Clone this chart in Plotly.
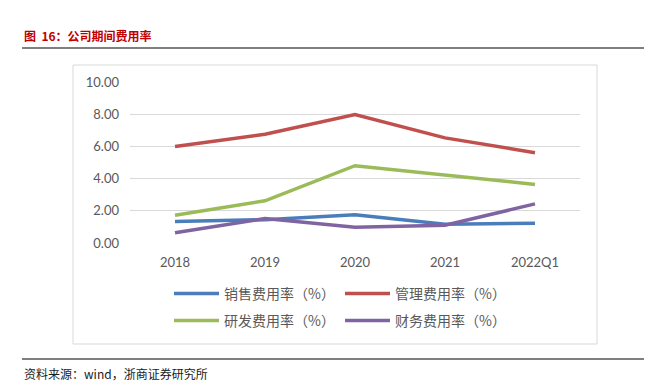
import plotly.graph_objects as go

categories = ["2018", "2019", "2020", "2021", "2022Q1"]
sales = [1.33, 1.45, 1.75, 1.17, 1.23]
admin = [5.99, 6.76, 7.98, 6.53, 5.61]
rnd = [1.73, 2.62, 4.80, 4.20, 3.64]
finance = [0.64, 1.52, 0.98, 1.10, 2.43]
y_ticks = [0, 2, 4, 6, 8, 10]
y_tick_labels = ["0.00", "2.00", "4.00", "6.00", "8.00", "10.00"]

series = [
    ("销售费用率（%）", sales, "#4a7ebb", "legend"),
    ("管理费用率（%）", admin, "#c0504d", "legend"),
    ("研发费用率（%）", rnd, "#9bbb59", "legend2"),
    ("财务费用率（%）", finance, "#8064a2", "legend2"),
]

OFF = 8  # page body margin
W, H = 654 - OFF, 388 - OFF
L, R, T, B = 130 - OFF, 580 - OFF, 82 - OFF, 243 - OFF  # plot area pixel bounds
pw, ph = R - L, B - T

def px(x):
    return (x - OFF - L) / pw

def py(y):
    return (B - (y - OFF)) / ph

fig = go.Figure()
for name, vals, color, lg in series:
    fig.add_trace(go.Scatter(
        x=categories, y=vals, name=name, mode="lines",
        line=dict(color=color, width=3.5), legend=lg,
    ))

leg_common = dict(
    orientation="h", xanchor="left", yanchor="middle",
    entrywidth=111, entrywidthmode="pixels",
    font=dict(size=14, color="#595959", family="Noto Sans CJK SC"),
    itemwidth=45, bgcolor="rgba(0,0,0,0)",
)

fig.update_layout(
    width=W, height=H,
    margin=dict(l=L, r=W - R, t=T, b=H - B),
    paper_bgcolor="white", plot_bgcolor="white",
    font=dict(family="Noto Sans CJK SC, sans-serif", color="#595959"),
    showlegend=True,
    legend=dict(x=px(169), y=py(294), **leg_common),
    legend2=dict(x=px(169), y=py(321), **leg_common),
    xaxis=dict(
        type="category", range=[-0.5, 4.5], showgrid=False, zeroline=False, showline=False,
        ticks="", tickfont=dict(size=13, color="#595959", family="Lato, sans-serif"),
        ticklabelstandoff=10,
    ),
    yaxis=dict(
        range=[0, 10], tickvals=y_ticks, ticktext=y_tick_labels,
        showgrid=True, gridcolor="#d9d9d9", gridwidth=1,
        zeroline=False, showline=False, ticks="",
        tickfont=dict(size=13, color="#595959", family="Lato, sans-serif"),
        ticklabelstandoff=10,
    ),
    shapes=[
        dict(type="rect", xref="paper", yref="paper",
             x0=px(73), x1=px(597), y0=py(344), y1=py(65),
             line=dict(color="#d9d9d9", width=1), layer="below"),
        dict(type="line", xref="paper", yref="paper",
             x0=px(22), x1=px(644), y0=py(48), y1=py(48),
             line=dict(color="#7f7f7f", width=2)),
        dict(type="line", xref="paper", yref="paper",
             x0=px(22), x1=px(644), y0=py(359), y1=py(359),
             line=dict(color="#7f7f7f", width=2)),
    ],
    annotations=[
        dict(text="<b>图&nbsp;&nbsp;16：公司期间费用率</b>", xref="paper", yref="paper",
             x=px(22), y=py(36), xanchor="left", yanchor="middle", showarrow=False,
             font=dict(size=12, color="#c00000", family="Noto Sans CJK SC")),
        dict(text="资料来源：wind，浙商证券研究所", xref="paper", yref="paper",
             x=px(22), y=py(373), xanchor="left", yanchor="middle", showarrow=False,
             font=dict(size=12, color="#1a1a1a", family="Noto Sans CJK SC")),
    ],
)

fig.write_html("out.html")
